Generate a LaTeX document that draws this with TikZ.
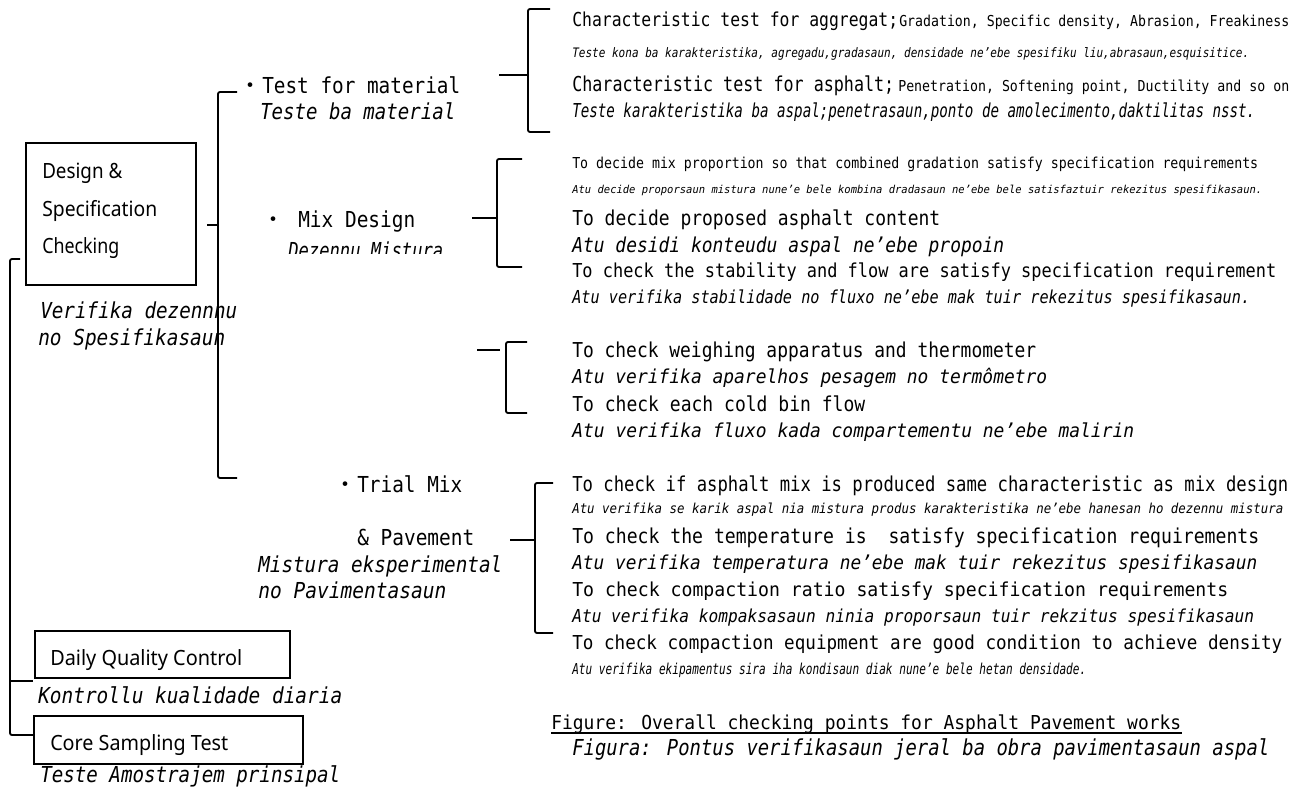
\documentclass[tikz,border=0pt]{standalone}
\usepackage{fontspec}
\usepackage{graphicx}
\setmainfont{DejaVu Sans Mono}[ItalicFont={DejaVu Sans Mono Oblique}]
\newfontfamily\boxfont{Noto Sans}
\newfontfamily\cjk{Noto Sans CJK JP}
\newdimen\px \px=0.75pt
\newcommand\fs[1]{\fontsize{#1pt}{#1pt}\selectfont}
\newcommand\fitw[2]{\resizebox{#1\px}{\height}{#2}}
\begin{document}
\begin{tikzpicture}[x=0.75pt,y=-0.75pt,
  txt/.style={inner sep=0pt,anchor=base west},
  bx/.style={draw,line width=1.4pt,inner sep=0pt},
  br/.style={line width=1.4pt,rounded corners=1.5pt},
  dot/.style={inner sep=0pt,anchor=base}]
\useasboundingbox (0,0) rectangle (1306,789);

% ---------- boxes ----------
\node[bx,minimum width=127.5pt,minimum height=106.5pt] (design) at (111,214) {};
\node[bx,minimum width=191.25pt,minimum height=35.25pt] (daily) at (162.5,654.5) {};
\node[bx,minimum width=201.75pt,minimum height=36pt] (core) at (168.5,740) {};

\node[txt] (d1) at (42,178) {\boxfont\fs{15.75}\fitw{80}{Design \&}};
\node[txt] (d2) at (42,216) {\boxfont\fs{15.75}\fitw{115}{Specification}};
\node[txt] (d3) at (42,253) {\boxfont\fs{15.75}\fitw{77}{Checking}};
\node[txt] (v1) at (40,318) {\fs{16.5}\itshape\fitw{197}{Verifika dezennnu}};
\node[txt] (v2) at (38,345) {\fs{16.5}\itshape\fitw{187}{no Spesifikasaun}};

\node[txt] (dq) at (50,665) {\boxfont\fs{15.75}\fitw{192}{Daily Quality Control}};
\node[txt] (dqi) at (38,703) {\fs{16.5}\itshape\fitw{304}{Kontrollu kualidade diaria}};
\node[txt] (cs) at (50,750) {\boxfont\fs{15.75}\fitw{178}{Core Sampling Test}};
\node[txt] (csi) at (40,782) {\fs{16.5}\itshape\fitw{300}{Teste Amostrajem prinsipal}};

% ---------- second level ----------
\node[dot] (bu1) at (250,93) {\cjk\fs{16.5}・};
\node[txt] (tm) at (262,93) {\fs{16.5}\fitw{198}{Test for material}};
\node[txt] (tmi) at (260,119) {\fs{16.5}\itshape\fitw{195}{Teste ba material}};

\node[dot] (bu2) at (273,227) {\cjk\fs{16.5}・};
\node[txt] (md) at (298,227) {\fs{16.5}\fitw{117}{Mix Design}};
\begin{scope}
\clip (280,228) rectangle (470,253);
\node[txt] (mdi) at (288,258) {\fs{16.5}\itshape\fitw{155}{Dezennu Mistura}};
\end{scope}

\node[dot] (bu3) at (345,492) {\cjk\fs{16.5}・};
\node[txt] (tr) at (357,492) {\fs{16.5}\fitw{105}{Trial Mix}};
\node[txt] (tp) at (357,545) {\fs{16.5}\fitw{117}{\& Pavement}};
\node[txt] (tri1) at (258,572) {\fs{16.5}\itshape\fitw{244}{Mistura eksperimental}};
\node[txt] (tri2) at (258,598) {\fs{16.5}\itshape\fitw{188}{no Pavimentasaun}};

% ---------- right: test for material ----------
\node[txt] (l1a) at (572,26) {\fs{14.4}\fitw{326}{Characteristic test for aggregat;}};
\node[txt] (l1b) at (899,26) {\fs{11.3}\fitw{390}{Gradation, Specific density, Abrasion, Freakiness}};
\node[txt] (l2) at (572,57) {\fs{9.8}\itshape\fitw{677}{Teste kona ba karakteristika,  agregadu,gradasaun,  densidade ne'ebe spesifiku liu,abrasaun,esquisitice.}};
\node[txt] (l3a) at (572,91) {\fs{15.4}\fitw{322}{Characteristic test for asphalt;}};
\node[txt] (l3b) at (898,91) {\fs{11.3}\fitw{391}{Penetration, Softening point, Ductility and so on}};
\node[txt] (l4) at (572,117) {\fs{14.4}\itshape\fitw{683}{Teste karakteristika ba aspal;penetrasaun,ponto de amolecimento,daktilitas nsst.}};

% ---------- right: mix design ----------
\node[txt] (m1) at (572,168) {\fs{11.3}\fitw{686}{To decide mix proportion so that combined gradation satisfy specification requirements}};
\node[txt] (m2) at (572,193) {\fs{8.2}\itshape\fitw{690}{Atu decide proporsaun mistura nune'e bele kombina dradasaun ne'ebe bele satisfaztuir rekezitus spesifikasaun.}};
\node[txt] (m3) at (572,225) {\fs{15.4}\fitw{368}{To decide proposed asphalt content}};
\node[txt] (m4) at (572,252) {\fs{15.4}\itshape\fitw{432}{Atu desidi konteudu aspal ne'ebe propoin}};
\node[txt] (m5) at (572,277) {\fs{14.4}\fitw{704}{To check the stability and flow are satisfy specification requirement}};
\node[txt] (m6) at (572,303) {\fs{13.4}\itshape\fitw{678}{Atu verifika stabilidade no fluxo ne'ebe mak tuir rekezitus spesifikasaun.}};

% ---------- right: weighing ----------
\node[txt] (w1) at (572,357) {\fs{15.4}\fitw{464}{To check weighing apparatus and thermometer}};
\node[txt] (w2) at (572,383) {\fs{14.4}\itshape\fitw{475}{Atu verifika aparelhos pesagem no termômetro}};
\node[txt] (w3) at (572,411) {\fs{15.4}\fitw{293}{To check each cold bin flow}};
\node[txt] (w4) at (572,437) {\fs{14.4}\itshape\fitw{562}{Atu verifika fluxo kada compartementu ne'ebe malirin}};

% ---------- right: trial mix ----------
\node[txt] (t1) at (572,491) {\fs{15.4}\fitw{716}{To check if asphalt mix is produced same characteristic as mix design}};
\node[txt] (t2) at (572,513) {\fs{10.3}\itshape\fitw{711}{Atu verifika se karik aspal nia mistura produs karakteristika ne'ebe hanesan ho dezennu mistura}};
\node[txt] (t3) at (572,543) {\fs{15.4}\fitw{687}{To check the temperature is\ \ satisfy specification requirements}};
\node[txt] (t4) at (572,569) {\fs{14.4}\itshape\fitw{685}{Atu verifika temperatura ne'ebe mak tuir rekezitus spesifikasaun}};
\node[txt] (t5) at (572,596) {\fs{14.4}\fitw{656}{To check compaction ratio satisfy specification requirements}};
\node[txt] (t6) at (572,622) {\fs{13.4}\itshape\fitw{682}{Atu verifika kompaksasaun ninia proporsaun tuir rekzitus spesifikasaun}};
\node[txt] (t7) at (572,649) {\fs{14.4}\fitw{710}{To check compaction equipment are good condition to achieve density}};
\node[txt] (t8) at (572,674) {\fs{11.3}\itshape\fitw{514}{Atu verifika ekipamentus sira iha kondisaun diak nune'e bele hetan densidade.}};

% ---------- caption ----------
\node[txt] (f1) at (551,729) {\fs{14.4}\fitw{630}{Figure: Overall checking points for Asphalt Pavement works}};
\draw[line width=1.1pt] ([yshift=-3pt]f1.base west) -- ([yshift=-3pt]f1.base east);
\node[txt] (f2) at (572,755) {\fs{16.5}\itshape\fitw{697}{Figura: Pontus verifikasaun jeral ba obra pavimentasaun aspal}};

% ---------- connectors / brackets ----------
% left spine
\coordinate (s0t) at (20,259); \coordinate (s0b) at (33,735);
\coordinate (s0d) at (33,681); \coordinate (s0v) at (10,0);
\draw[br] (s0t) -- (s0t -| s0v) -- (s0b -| s0v) -- (s0b);
\draw[br] (s0d -| s0v) -- (s0d);

% main bracket
\coordinate (s1t) at (237,92); \coordinate (s1b) at (237,478);
\coordinate (s1s) at (207,225); \coordinate (s1v) at (218,0);
\draw[br] (s1t) -- (s1t -| s1v) -- (s1b -| s1v) -- (s1b);
\draw[br] (s1s) -- (s1s -| s1v);

% material bracket
\coordinate (b1t) at (550,9); \coordinate (b1b) at (550,132);
\coordinate (b1s) at (499,75); \coordinate (b1v) at (528,0);
\draw[br] (b1t) -- (b1t -| b1v) -- (b1b -| b1v) -- (b1b);
\draw[br] (b1s) -- (b1s -| b1v);

% mix design bracket
\coordinate (b2t) at (522,159); \coordinate (b2b) at (522,267);
\coordinate (b2s) at (472,218); \coordinate (b2v) at (497,0);
\draw[br] (b2t) -- (b2t -| b2v) -- (b2b -| b2v) -- (b2b);
\draw[br] (b2s) -- (b2s -| b2v);

% weighing bracket
\coordinate (b3t) at (527,342); \coordinate (b3b) at (527,413);
\coordinate (b3s) at (477,350); \coordinate (b3e) at (500,350); \coordinate (b3v) at (506,0);
\draw[br] (b3t) -- (b3t -| b3v) -- (b3b -| b3v) -- (b3b);
\draw[br] (b3s) -- (b3e);

% trial mix bracket
\coordinate (b4t) at (553,483); \coordinate (b4b) at (553,633);
\coordinate (b4s) at (510,540); \coordinate (b4v) at (535,0);
\draw[br] (b4t) -- (b4t -| b4v) -- (b4b -| b4v) -- (b4b);
\draw[br] (b4s) -- (b4s -| b4v);
\end{tikzpicture}
\end{document}
